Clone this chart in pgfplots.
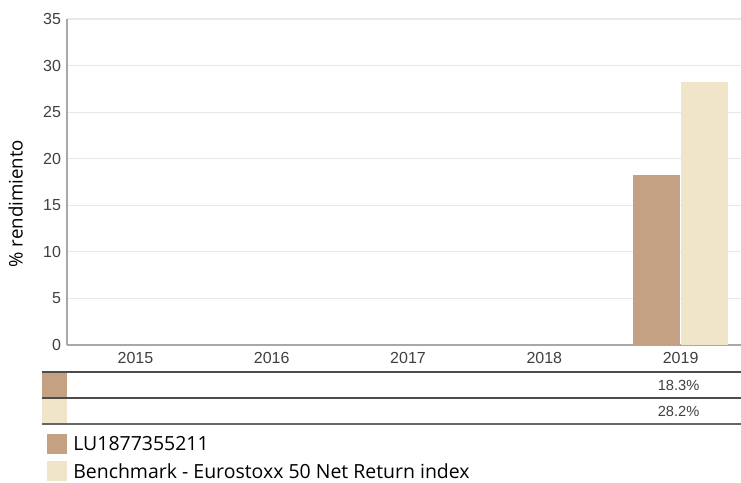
\documentclass[border=0pt]{standalone}
\usepackage{pgfplots}
\pgfplotsset{compat=1.18}
\usepackage{fontspec}
\setmainfont{Open Sans}
\newfontfamily\arialf{Liberation Sans}
\definecolor{fund}{HTML}{C4A182}
\definecolor{bench}{HTML}{F0E4C9}
\definecolor{gridc}{HTML}{E8E8E8}
\definecolor{axc}{HTML}{A8A8A8}
\definecolor{txt}{HTML}{404040}
\begin{document}
\begin{tikzpicture}[x=0.75pt,y=0.75pt]
\useasboundingbox (0,0) rectangle (741,482);
\begin{axis}[
  at={(50.25pt,102.75pt)}, anchor=south west,
  scale only axis, width=505.5pt, height=244.5pt,
  xmin=-0.502, xmax=4.443, ymin=0, ymax=35,
  axis x line*=bottom, axis y line*=left,
  axis line style={axc, line width=0.8pt},
  ytick={0,5,...,35},
  xtick={0,1,2,3,4},
  xticklabels={2015,2016,2017,2018,2019},
  major tick length=0pt,
  /pgf/number format/assume math mode=true,
  ymajorgrids, grid style={gridc, line width=0.8pt},
  ticklabel style={font=\arialf\fontsize{12pt}{14pt}\selectfont, text=txt},
  yticklabel style={xshift=-1pt},
  xticklabel style={yshift=-2pt},
  ylabel={\% rendimiento},
  every axis y label/.style={at={(axis description cs:-0.0764,0.434)}, rotate=90, anchor=center, font=\fontsize{14pt}{16pt}\selectfont, text=black},
  clip=false,
]
\addplot[ybar, bar width=35.25pt, bar shift=-18pt, fill=fund, draw=none] coordinates {(4,18.3)};
\addplot[ybar, bar width=35.25pt, bar shift=18pt, fill=bench, draw=none] coordinates {(4,28.2)};
\node[font=\arialf\fontsize{11pt}{13pt}\selectfont, text=txt] at (axis cs:3.985,-4.3) {18.3\%};
\node[font=\arialf\fontsize{11pt}{13pt}\selectfont, text=txt] at (axis cs:3.985,-7.1) {28.2\%};
\end{axis}
% data table below the chart
\fill[fund] (42,85) rectangle (67,109);
\fill[bench] (42,59) rectangle (67,83);
\draw[color=black!70, line width=1.5pt] (42,110.5) -- (741,110.5);
\draw[color=black!70, line width=1.1pt] (42,84) -- (741,84);
\draw[color=black!60, line width=1pt] (42,58) -- (741,58);
% legend
\fill[fund] (47,28) rectangle (67,48);
\fill[bench] (47,1) rectangle (67,21);
\node[anchor=west, inner sep=0pt, font=\fontsize{14.6pt}{16pt}\selectfont] at (73,38) {LU1877355211};
\node[anchor=west, inner sep=0pt, font=\fontsize{14.6pt}{16pt}\selectfont] at (73,11) {Benchmark - Eurostoxx 50 Net Return index};
\end{tikzpicture}
\end{document}
